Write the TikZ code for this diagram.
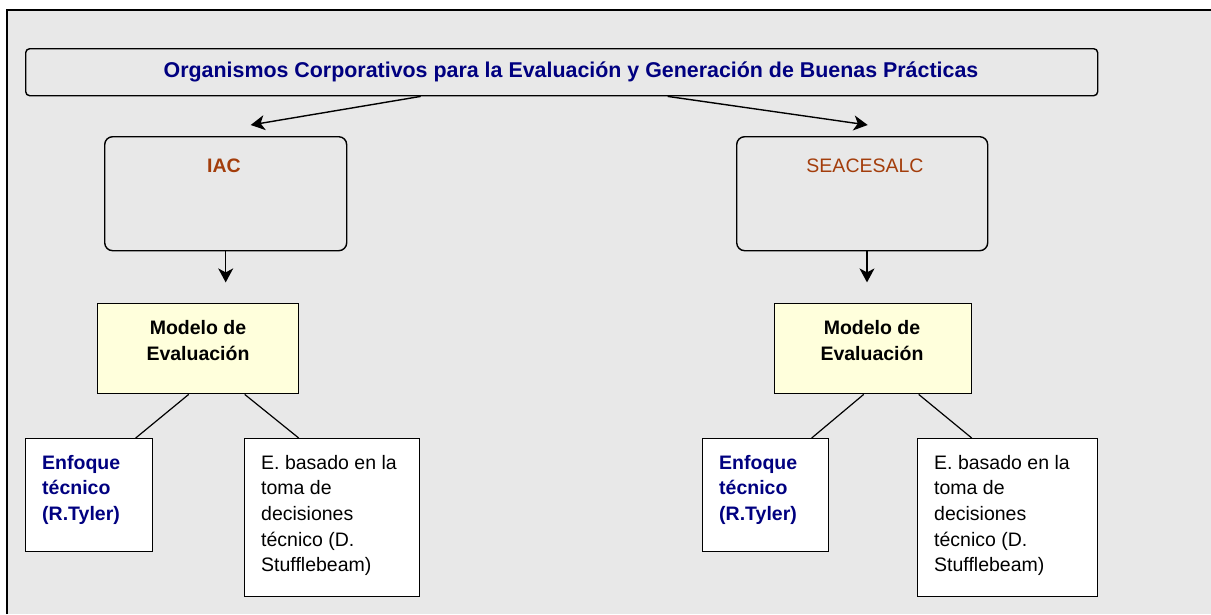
\documentclass[tikz,border=0pt]{standalone}
\usepackage{fontspec}
\setmainfont{Liberation Sans}
\usetikzlibrary{positioning,arrows.meta}

\definecolor{titleblue}{HTML}{000080}
\definecolor{orgbrown}{HTML}{A33D0B}
\definecolor{modelfill}{HTML}{FFFFDC}
\definecolor{bggray}{HTML}{E8E8E8}

\tikzset{
  boxbase/.style={draw, inner sep=0pt, anchor=north west},
  corpbox/.style={boxbase, line width=1.4pt, rounded corners=4pt},
  orgbox/.style={boxbase, line width=1.4pt, rounded corners=8pt},
  modelbox/.style={boxbase, line width=1.4pt, fill=modelfill},
  leafbox/.style={boxbase, line width=1.4pt, fill=white},
  boxtext/.style={inner sep=0pt, font=\fontsize{19.5}{25.6}\selectfont},
  boldtext/.style={boxtext, font=\bfseries\fontsize{19.5}{25.6}\selectfont},
  flow/.style={line width=1.4pt, -{Stealth[length=14pt, width=15pt, inset=4pt]}},
  branch/.style={line width=1.2pt}
}

\begin{document}
\begin{tikzpicture}[x=1pt, y=-1pt]
    \useasboundingbox (0,0) rectangle (1211,614);
    % Background and frame
    \fill[bggray] (7,10) rectangle (1211,614);
    \draw[line width=2pt] (7,614) -- (7,10) -- (1211,10);

    % Top box
    \node[corpbox, minimum width=1072pt, minimum height=47pt] (corp) at (25,48) {};
    \node[boldtext, anchor=base, text=titleblue, font=\bfseries\fontsize{21.4}{25.6}\selectfont]
        (corptxt) at (571,77) {Organismos Corporativos para la Evaluación y Generación de Buenas Prácticas};

    % Organisms
    \node[orgbox, minimum width=242pt, minimum height=114pt] (iac) at (104,136) {};
    \node[boldtext, anchor=base, text=orgbrown] (iactxt) at (224,172) {IAC};
    \node[orgbox, minimum width=251pt, minimum height=114pt] (seac) at (736,136) {};
    \node[boxtext, anchor=base, text=orgbrown] (seactxt) at (865,172) {SEACESALC};

    % Evaluation models
    \node[modelbox, minimum width=201pt, minimum height=90pt] (mdlL) at (97,303) {};
    \node[boldtext, anchor=base, align=center] (mdlLtxt) at (198,360) {Modelo de\\Evaluación};
    \node[modelbox, minimum width=197pt, minimum height=90pt] (mdlR) at (774,303) {};
    \node[boldtext, anchor=base, align=center] (mdlRtxt) at (872,360) {Modelo de\\Evaluación};

    % Approaches
    \node[leafbox, minimum width=127pt, minimum height=113pt] (tylerL) at (25,438) {};
    \node[boldtext, anchor=north west, align=left, text=titleblue]
        (tylerLtxt) at (42,455) {Enfoque\\técnico\\(R.Tyler)};
    \node[leafbox, minimum width=175pt, minimum height=158pt] (stuffL) at (244,438) {};
    \node[boxtext, anchor=north west, align=left]
        (stuffLtxt) at (261,455) {E. basado en la\\toma de\\decisiones\\técnico (D.\\Stufflebeam)};
    \node[leafbox, minimum width=126pt, minimum height=113pt] (tylerR) at (702,438) {};
    \node[boldtext, anchor=north west, align=left, text=titleblue]
        (tylerRtxt) at (719,455) {Enfoque\\técnico\\(R.Tyler)};
    \node[leafbox, minimum width=180pt, minimum height=158pt] (stuffR) at (917,438) {};
    \node[boxtext, anchor=north west, align=left]
        (stuffRtxt) at (934,455) {E. basado en la\\toma de\\decisiones\\técnico (D.\\Stufflebeam)};

    % Arrows
    \draw[flow] ([xshift=-141pt]corp.south) -- ([xshift=25pt, yshift=11pt]iac.north);
    \draw[flow] ([xshift=106pt]corp.south) -- ([xshift=5.5pt, yshift=11pt]seac.north);
    \draw[flow] (iac.south) -- ++(0,31);
    \draw[flow] (seac.south -| 867,0) -- ++(0,31);

    % Branches
    \draw[branch] ([xshift=-9.5pt]mdlL.south) -- ([xshift=46.5pt]tylerL.north);
    \draw[branch] ([xshift=46.5pt]mdlL.south) -- ([xshift=-33.5pt]stuffL.north);
    \draw[branch] ([xshift=-9.5pt]mdlR.south) -- ([xshift=46pt]tylerR.north);
    \draw[branch] ([xshift=45.5pt]mdlR.south) -- ([xshift=-36pt]stuffR.north);
\end{tikzpicture}
\end{document}
